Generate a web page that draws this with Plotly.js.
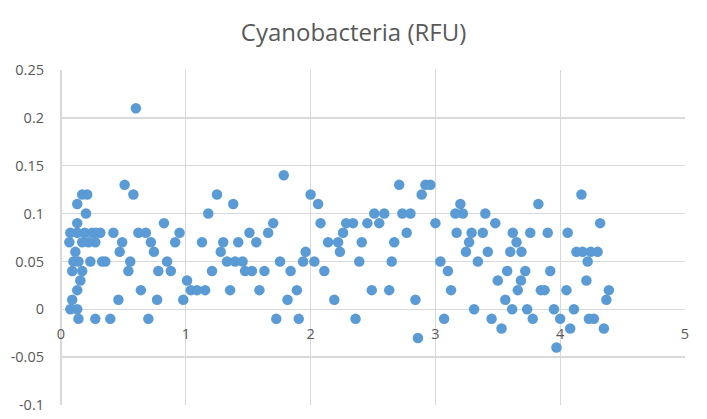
<!DOCTYPE html>
<html>
<head>
<meta charset="utf-8">
<script src="https://cdn.plot.ly/plotly-3.0.1.min.js"></script>
<style>
  html, body { margin: 0; padding: 0; background: #ffffff; }
  #chart { width: 707px; height: 419px; }
</style>
</head>
<body>
<div id="chart"></div>
<script>
// Data
const depth = [
  0.067, 0.075, 0.075, 0.09, 0.09, 0.10, 0.115, 0.13, 0.13, 0.13,
  0.13, 0.13, 0.14, 0.14, 0.155, 0.17, 0.17, 0.17, 0.19, 0.20,
  0.21, 0.22, 0.235, 0.25, 0.275, 0.275, 0.28, 0.315, 0.33, 0.355,
  0.395, 0.42, 0.47, 0.46, 0.49, 0.51, 0.54, 0.555, 0.58, 0.60,
  0.62, 0.64, 0.68, 0.70, 0.72, 0.745, 0.77, 0.78, 0.825, 0.85,
  0.88, 0.915, 0.95, 0.98, 1.01, 1.04, 1.09, 1.13, 1.155, 1.18,
  1.21, 1.25, 1.28, 1.30, 1.33, 1.355, 1.38, 1.395, 1.42, 1.455,
  1.475, 1.51, 1.53, 1.59, 1.565, 1.63, 1.66, 1.70, 1.725, 1.755,
  1.785, 1.815, 1.84, 1.89, 1.905, 1.94, 1.96, 2.00, 2.03, 2.06,
  2.08, 2.11, 2.14, 2.19, 2.22, 2.235, 2.26, 2.285, 2.34, 2.36,
  2.39, 2.41, 2.455, 2.49, 2.51, 2.55, 2.59, 2.63, 2.65, 2.67,
  2.71, 2.735, 2.77, 2.80, 2.84, 2.86, 2.89, 2.92, 2.96, 3.00,
  3.04, 3.07, 3.10, 3.125, 3.16, 3.17, 3.20, 3.22, 3.245, 3.27,
  3.29, 3.31, 3.34, 3.38, 3.40, 3.42, 3.45, 3.48, 3.50, 3.53,
  3.56, 3.575, 3.60, 3.615, 3.62, 3.65, 3.66, 3.685, 3.69, 3.72,
  3.735, 3.76, 3.78, 3.825, 3.845, 3.875, 3.90, 3.92, 3.95, 3.97,
  4.00, 4.05, 4.06, 4.08, 4.11, 4.13, 4.17, 4.18, 4.21, 4.22,
  4.23, 4.245, 4.27, 4.30, 4.32, 4.35, 4.37, 4.39
];
const cyano = [
  0.07, 0.08, 0.00, 0.04, 0.01, 0.05, 0.06, 0.11, 0.09, 0.08,
  0.02, 0.00, 0.05, -0.01, 0.03, 0.12, 0.07, 0.04, 0.08, 0.10,
  0.12, 0.07, 0.05, 0.08, 0.07, -0.01, 0.08, 0.08, 0.05, 0.05,
  -0.01, 0.08, 0.06, 0.01, 0.07, 0.13, 0.04, 0.05, 0.12, 0.21,
  0.08, 0.02, 0.08, -0.01, 0.07, 0.06, 0.01, 0.04, 0.09, 0.05,
  0.04, 0.07, 0.08, 0.01, 0.03, 0.02, 0.02, 0.07, 0.02, 0.10,
  0.04, 0.12, 0.06, 0.07, 0.05, 0.02, 0.11, 0.05, 0.07, 0.05,
  0.04, 0.08, 0.04, 0.02, 0.07, 0.04, 0.08, 0.09, -0.01, 0.05,
  0.14, 0.01, 0.04, 0.02, -0.01, 0.05, 0.06, 0.12, 0.05, 0.11,
  0.09, 0.04, 0.07, 0.01, 0.07, 0.06, 0.08, 0.09, 0.09, -0.01,
  0.05, 0.07, 0.09, 0.02, 0.10, 0.09, 0.10, 0.02, 0.05, 0.07,
  0.13, 0.10, 0.08, 0.10, 0.01, -0.03, 0.12, 0.13, 0.13, 0.09,
  0.05, -0.01, 0.04, 0.02, 0.10, 0.08, 0.11, 0.10, 0.06, 0.07,
  0.08, 0.00, 0.05, 0.08, 0.10, 0.06, -0.01, 0.09, 0.03, -0.02,
  0.01, 0.04, 0.06, 0.00, 0.08, 0.07, 0.02, 0.03, 0.06, 0.04,
  0.00, 0.08, -0.01, 0.11, 0.02, 0.02, 0.08, 0.04, 0.00, -0.04,
  -0.01, 0.02, 0.08, -0.02, 0.00, 0.06, 0.12, 0.06, 0.03, 0.05,
  -0.01, 0.06, -0.01, 0.06, 0.09, -0.02, 0.01, 0.02
];
const xTickVals = [0, 1, 2, 3, 4, 5];
const xTickText = ["0", "1", "2", "3", "4", "5"];
const yTickVals = [-0.1, -0.05, 0, 0.05, 0.1, 0.15, 0.2, 0.25];
const yTickText = ["-0.1", "-0.05", "0", "0.05", "0.1", "0.15", "0.2", "0.25"];
const chartTitle = "Cyanobacteria (RFU)";

const gridColor = "#d9d9d9";
const textColor = "#595959";
const fontFamily = "'Open Sans', 'Liberation Sans', sans-serif";

const yMin = -0.1, yMax = 0.25;

const trace = {
  type: "scatter",
  mode: "markers",
  x: depth,
  y: cyano,
  marker: { color: "#5b9bd5", size: 10.5, line: { width: 0 } },
  cliponaxis: false,
  hoverinfo: "x+y"
};

const layout = {
  width: 707,
  height: 419,
  margin: { l: 61, r: 22, t: 70, b: 14, pad: 0 },
  paper_bgcolor: "#ffffff",
  plot_bgcolor: "#ffffff",
  showlegend: false,
  font: { family: fontFamily, color: textColor },
  title: {
    text: chartTitle,
    font: { family: fontFamily, size: 24, color: textColor },
    x: 0.5, xref: "container", xanchor: "center",
    y: 0.922, yref: "container", yanchor: "middle"
  },
  xaxis: {
    range: [0, 5],
    tickvals: xTickVals,
    ticktext: xTickText,
    showgrid: true,
    gridcolor: gridColor,
    gridwidth: 1.3,
    zeroline: true,
    zerolinecolor: gridColor,
    zerolinewidth: 1.3,
    showline: false,
    ticks: "",
    anchor: "free",
    position: (0 - yMin) / (yMax - yMin),
    ticklabelstandoff: 14,
    tickfont: { family: fontFamily, size: 14.5, color: textColor },
    fixedrange: true
  },
  yaxis: {
    range: [yMin, yMax],
    tickvals: yTickVals,
    ticktext: yTickText,
    showgrid: true,
    gridcolor: gridColor,
    gridwidth: 1.3,
    zeroline: true,
    zerolinecolor: gridColor,
    zerolinewidth: 1.3,
    showline: false,
    ticks: "",
    ticklabelstandoff: 16,
    tickfont: { family: fontFamily, size: 14.5, color: textColor },
    fixedrange: true
  }
};

Plotly.newPlot("chart", [trace], layout, { displayModeBar: false, staticPlot: true });
</script>
</body>
</html>
